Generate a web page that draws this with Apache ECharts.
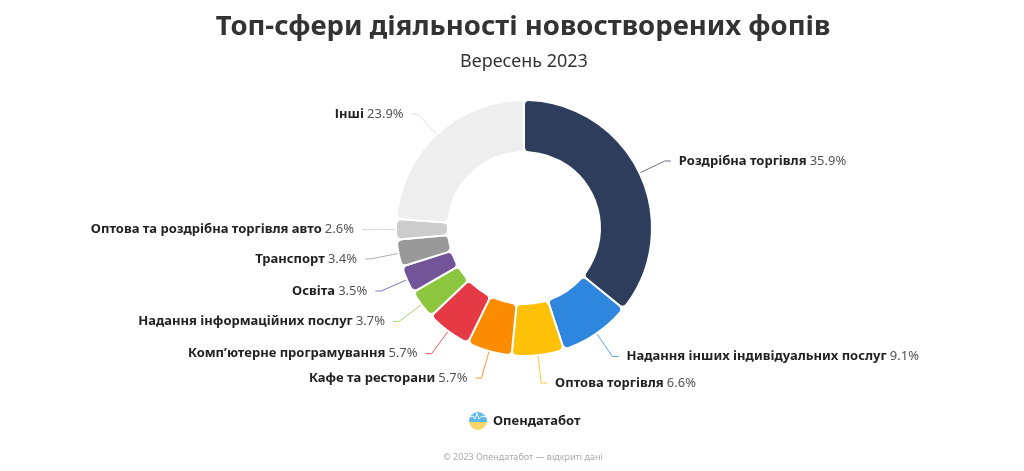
<!DOCTYPE html>
<html><head><meta charset="utf-8">
<script src="https://cdn.jsdelivr.net/npm/echarts@6/dist/echarts.min.js"></script>
<style>html,body{margin:0;padding:0;background:#fff}#c{width:1024px;height:471px}</style>
</head><body><div id="c"></div>
<script>
const titleText = 'Топ-сфери діяльності новостворених фопів';
const subtitleText = 'Вересень 2023';
const categories = ['Роздрібна торгівля','Надання інших індивідуальних послуг','Оптова торгівля','Кафе та ресторани','Комп\u02BCютерне програмування','Надання інформаційних послуг','Освіта','Транспорт','Оптова та роздрібна торгівля авто','Інші'];
const values = [35.9, 9.1, 6.6, 5.7, 5.7, 3.7, 3.5, 3.4, 2.6, 23.9];
const colors = ['#2e3d5c','#2e86de','#ffc107','#fb8c00','#e63946','#8cc63f','#725599','#999999','#cccccc','#eeeeee'];
const lineColors = ['#6a7188','#5fa6ea','#ffc936','#fb9a26','#ea5a64','#a6d26a','#8a74ae','#b0b0b0','#d6d6d6','#e0e0e0'];
const FONT = '"Noto Sans", "Open Sans", sans-serif';
const data = categories.map((n,i)=>({name:n,value:values[i],itemStyle:{color:colors[i]},labelLine:{lineStyle:{color:lineColors[i],width:1}}}));
const chart = echarts.init(document.getElementById('c'));
chart.setOption({
  backgroundColor:'#fff',
  textStyle:{fontFamily:FONT},
  series:[{
    type:'pie',
    center:[524,228],
    radius:[76,128],
    startAngle:90,
    clockwise:true,
    animation:false,
    itemStyle:{borderRadius:5,borderColor:'#fff',borderWidth:2},
    label:{show:true,distanceToLabelLine:8,formatter:p=>'{b|'+p.name+'} {v|'+p.value+'%}',
      rich:{b:{fontFamily:FONT,fontSize:13,fontWeight:'bold',color:'#222'},v:{fontFamily:FONT,fontSize:13,color:'#555'}}},
    labelLine:{show:true,length:28,length2:6},
    data:data
  }],
  graphic:[
    {type:'text',x:523,y:27,style:{text:titleText,font:'bold 27.5px '+FONT,fill:'#333',textAlign:'center',textVerticalAlign:'middle'}},
    {type:'text',x:524,y:62,style:{text:subtitleText,font:'18px '+FONT,fill:'#333',textAlign:'center',textVerticalAlign:'middle'}},
    {type:'circle',shape:{cx:478,cy:421,r:9},style:{fill:new echarts.graphic.LinearGradient(0,0,0,1,[{offset:0,color:'#5db8ee'},{offset:0.55,color:'#5db8ee'},{offset:0.55,color:'#f8d66a'},{offset:1,color:'#f8d66a'}])}},
    {type:'polyline',shape:{points:[[470,417],[473,416],[475,419],[477,413],[479,419],[482,416],[486,417]]},style:{stroke:'#fff',lineWidth:1,fill:null}},
    {type:'text',x:493,y:421,style:{text:'Опендатабот',font:'bold 13px '+FONT,fill:'#222',textVerticalAlign:'middle'}},
    {type:'text',x:523,y:457,style:{text:'© 2023 Опендатабот — відкриті дані',font:'9px '+FONT,fill:'#aaa',textAlign:'center',textVerticalAlign:'middle'}}
  ]
});
</script></body></html>
